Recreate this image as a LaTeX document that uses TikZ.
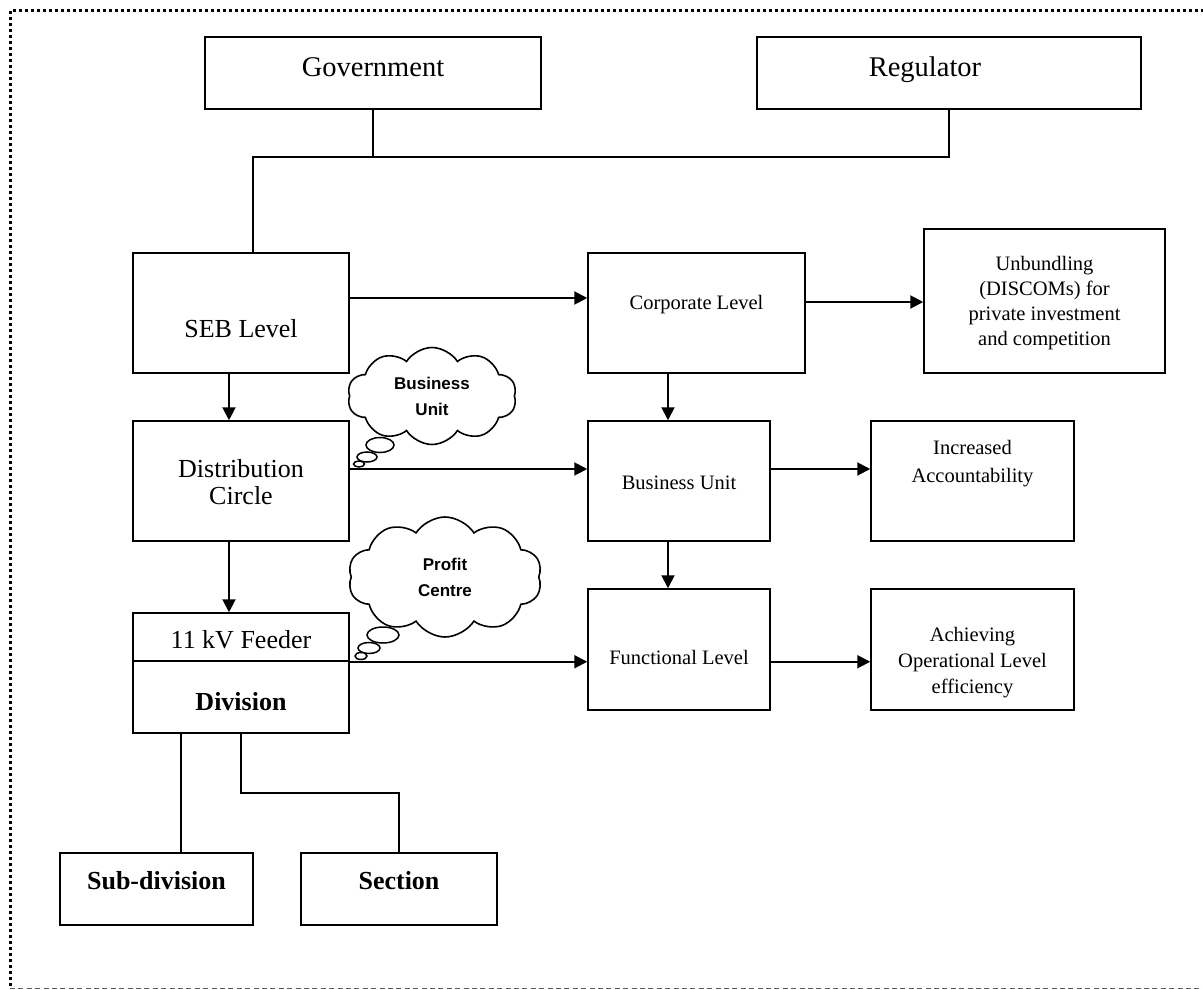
\documentclass[tikz,border=0pt]{standalone}
\usepackage{fontspec}
\setmainfont{Liberation Serif}
\newfontfamily\cloudfont{Liberation Sans}
\usetikzlibrary{arrows.meta,shapes.symbols,shapes.geometric}

\tikzset{
  box/.style={draw, line width=1.5pt, rectangle, inner sep=0pt, align=center},
  boldbox/.style={draw, line width=2.6pt, rectangle, inner sep=0pt},
  txt/.style={inner sep=0pt, align=center, anchor=base},
  big/.style={font=\fontsize{26}{30}\selectfont},
  bigbold/.style={font=\fontsize{26}{30}\selectfont\bfseries},
  small/.style={font=\fontsize{20.5}{25.5}\selectfont},
  link/.style={line width=1.5pt},
  arr/.style={line width=2pt, -{Triangle[length=13pt,width=13pt]}},
  thought/.style={cloud, draw, fill=white, line width=1.6pt, cloud puffs=10,
              cloud puff arc=115, cloud ignores aspect, inner sep=0pt, align=center,
              font=\cloudfont\bfseries\fontsize{17}{26}\selectfont},
  bubble/.style={ellipse, draw, fill=white, line width=1.5pt, inner sep=0pt}
}

\begin{document}
\begin{tikzpicture}[x=1pt, y=-1pt]
\useasboundingbox (0,0) rectangle (1203,990);

% frame: dotted top and left edges, dashed grey bottom edge
\draw[line width=3pt, dash pattern=on 3pt off 3pt] (10,986) -- (10,11) -- (1203,11);
\draw[black!65, line width=1.3pt, dash pattern=on 5pt off 3.4pt] (10,988.4) -- (1203,988.4);

% top level
\node[box, minimum width=336pt, minimum height=72pt] (gov) at (373,73) {};
\node[txt, font=\fontsize{28.5}{32}\selectfont] (govt) at (373,77) {Government};
\node[box, minimum width=384pt, minimum height=72pt] (reg) at (949,73) {};
\node[txt, font=\fontsize{28.5}{32}\selectfont] (regt) at (925,77) {Regulator};

% left column
\node[box, minimum width=216pt, minimum height=120pt] (seb) at (241,313) {};
\node[txt, big] (sebt) at (241,337) {SEB Level};
\node[box, minimum width=216pt, minimum height=120pt] (dist) at (241,481) {};
\node[txt, big] (distt1) at (241,477) {Distribution};
\node[txt, big] (distt2) at (241,504) {Circle};
\node[box, minimum width=216pt, minimum height=48pt] (feed) at (241,637) {};
\node[txt, big] (feedt) at (241,648) {11 kV Feeder};
\node[box, minimum width=216pt, minimum height=72pt] (divn) at (241,697) {};
\node[txt, bigbold] (divt) at (241,710) {Division};
\node[boldbox, minimum width=193pt, minimum height=72pt] (sub) at (156.5,889) {};
\node[txt, bigbold] (subt) at (156.5,889) {Sub-division};
\node[boldbox, minimum width=196pt, minimum height=72pt] (sec) at (399,889) {};
\node[txt, bigbold] (sect) at (399,889) {Section};

% middle column
\node[box, minimum width=217pt, minimum height=120pt] (corp) at (696.5,313) {};
\node[txt, small] (corpt) at (696.5,309) {Corporate Level};
\node[box, minimum width=182pt, minimum height=120pt] (bu) at (679,481) {};
\node[txt, small] (but) at (679,489) {Business Unit};
\node[box, minimum width=182pt, minimum height=121pt] (func) at (679,649.5) {};
\node[txt, small] (funct) at (679,664) {Functional Level};

% right column
\node[box, minimum width=241pt, minimum height=144pt] (unb) at (1044.5,301) {};
\node[txt, small] (unbt1) at (1044.5,270) {Unbundling};
\node[txt, small] (unbt2) at (1044.5,295) {(DISCOMs) for};
\node[txt, small] (unbt3) at (1044.5,320) {private investment};
\node[txt, small] (unbt4) at (1044.5,345) {and competition};
\node[box, minimum width=203pt, minimum height=120pt] (inc) at (972.5,481) {};
\node[txt, small] (inct1) at (972.5,454) {Increased};
\node[txt, small] (inct2) at (972.5,482) {Accountability};
\node[box, minimum width=203pt, minimum height=121pt] (ach) at (972.5,649.5) {};
\node[txt, small] (acht1) at (972.5,641) {Achieving};
\node[txt, small] (acht2) at (972.5,667) {Operational Level};
\node[txt, small] (acht3) at (972.5,693) {efficiency};

% links from the top level
\coordinate (jn) at (253,157);
\draw[link] (gov.south) -- (gov.south |- jn);
\draw[link] (reg.south) |- (jn) -- (jn |- seb.north);

% horizontal arrows
\draw[arr] ([yshift=15pt]seb.east) -- ([yshift=15pt]seb.east -| corp.west);
\draw[arr] ([yshift=11pt]corp.east) -- ([yshift=11pt]corp.east -| unb.west);
\draw[arr] ([yshift=12pt]dist.east) -- ([yshift=12pt]dist.east -| bu.west);
\draw[arr] ([yshift=12pt]bu.east) -- ([yshift=12pt]bu.east -| inc.west);
\draw[arr] (feed.south east) -- (feed.south east -| func.west);
\draw[arr] (func.east |- feed.south) -- (feed.south -| ach.west);

% vertical arrows
\draw[arr] ([xshift=-12pt]seb.south) -- ([xshift=-12pt]seb.south |- dist.north);
\draw[arr] ([xshift=-12pt]dist.south) -- ([xshift=-12pt]dist.south |- feed.north);
\draw[arr] ([xshift=-11pt]bu.north |- corp.south) -- ([xshift=-11pt]bu.north);
\draw[arr] ([xshift=-11pt]bu.south) -- ([xshift=-11pt]bu.south |- func.north);

% division to its units
\draw[link] (sub.north -| 181,0) -- (181,0 |- divn.south);
\coordinate (bend) at (241,793);
\draw[link] (bend |- divn.south) -- (bend) -| (sec.north);

% thought clouds
\node[thought, minimum width=169pt, minimum height=97pt] (cl1) at (432,396) {Business\\Unit};
\node[bubble, minimum width=28pt, minimum height=15pt] (cl1a) at (380,445) {};
\node[bubble, minimum width=20pt, minimum height=10pt] (cl1b) at (367,457) {};
\node[bubble, minimum width=11pt, minimum height=6pt] (cl1c) at (359,464) {};

\node[thought, minimum width=194pt, minimum height=120pt] (cl2) at (445,577) {Profit\\Centre};
\node[bubble, minimum width=32pt, minimum height=16pt] (cl2a) at (383,635) {};
\node[bubble, minimum width=22pt, minimum height=11pt] (cl2b) at (369,648) {};
\node[bubble, minimum width=12pt, minimum height=7pt] (cl2c) at (361,656) {};
\end{tikzpicture}
\end{document}
